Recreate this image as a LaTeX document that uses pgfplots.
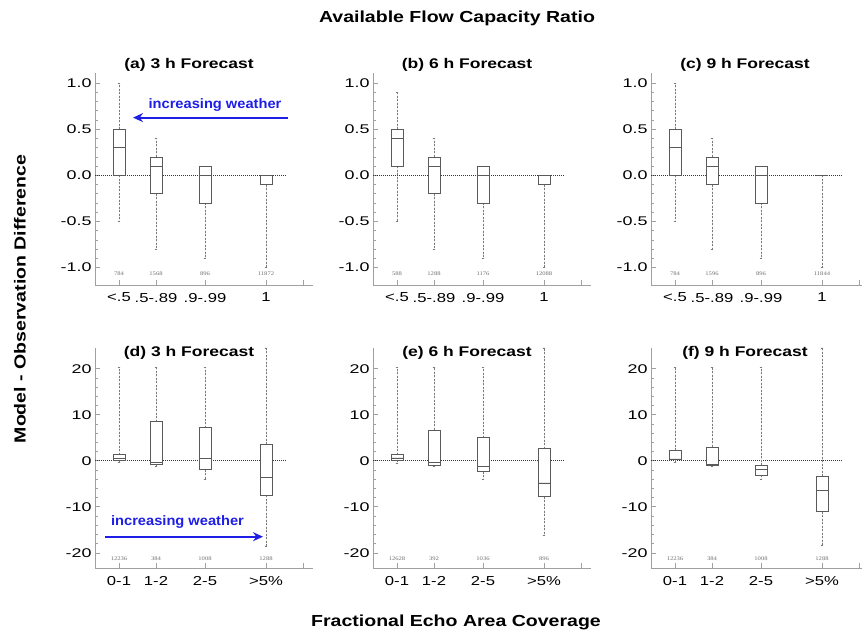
\documentclass[border=0pt]{standalone}
\usepackage{fontspec}
\setmainfont{Liberation Sans}
\newfontfamily\tickfont{Liberation Sans}[FakeStretch=1.42]
\newfontfamily\xtickfont{Liberation Sans}[FakeStretch=1.28]
\newfontfamily\labfont{Liberation Sans}[FakeStretch=1.22]
\newfontfamily\ptfont{Liberation Sans}[FakeStretch=1.25]
\newfontfamily\arrfont{Liberation Sans}[FakeStretch=1.07]
\newfontfamily\cntfont{Liberation Serif}[FakeStretch=1.2]
\usepackage{pgfplots}
\pgfplotsset{compat=1.18}
\usepgfplotslibrary{statistics}
\usetikzlibrary{arrows.meta}
\definecolor{axgray}{HTML}{A0A0A0}
\definecolor{boxgray}{HTML}{5A5A5A}
\definecolor{wgray}{HTML}{7A7A7A}
\definecolor{arrblue}{HTML}{1E1EE6}
\definecolor{cntgray}{HTML}{707070}

\pgfplotsset{
 panel/.style={
  scale only axis, width=218pt, anchor=south west, clip=false,
  xmin=0, xmax=218,
  boxplot/draw direction=y,
  axis x line*=bottom, axis y line*=left,
  axis line style={axgray, line width=0.8pt, -},
  xtick={24,61,110,171,208},
  tick align=inside,
  major tick length=5pt, minor tick length=3pt,
  every tick/.style={axgray, line width=0.6pt},
  minor y tick num=4,
  yticklabel style={font=\tickfont\fontsize{12.6}{14}\selectfont, text=black},
  xticklabel style={font=\xtickfont\fontsize{13}{14}\selectfont, text=black, yshift=-4.5pt},
 },
 toprow/.style={panel, height=212pt, ymin=-1.19, ymax=1.11,
  ytick={-1,-0.5,0,0.5,1}, yticklabels={-1.0,-0.5,0.0,0.5,1.0},
  xticklabels={<.5,.5-.89,.9-.99,1,{}}},
 botrow/.style={panel, height=220pt, ymin=-23.3, ymax=24.5,
  ytick={-20,-10,0,10,20}, yticklabels={-20,-10,0,10,20},
  xticklabels={0-1,1-2,2-5,>5\%,{}}},
}
\newcommand{\bx}[6]{\addplot[draw=boxgray, line width=0.7pt, solid, fill=white,
  boxplot prepared={draw direction=y, draw position=#1, lower whisker=#2, lower quartile=#3,
   median=#4, upper quartile=#5, upper whisker=#6, box extend=12, whisker extend=3,
   every whisker/.style={wgray, dash pattern=on 2pt off 1.5pt},
   every median/.style={boxgray}}] coordinates {};}
\newcommand{\zl}{\draw[black!80, line width=0.7pt, dash pattern=on 0.7pt off 1.3pt] (axis cs:0,0) -- (axis cs:191,0);}
\newcommand{\cnt}[5]{%
  \node[font=\cntfont\fontsize{5.5}{6}\selectfont, text=cntgray] at (axis cs:24,#1) {#2};
  \node[font=\cntfont\fontsize{5.5}{6}\selectfont, text=cntgray] at (axis cs:61,#1) {#3};
  \node[font=\cntfont\fontsize{5.5}{6}\selectfont, text=cntgray] at (axis cs:110,#1) {#4};
  \node[font=\cntfont\fontsize{5.5}{6}\selectfont, text=cntgray] at (axis cs:171,#1) {#5};}
\newcommand{\ptitle}[2]{\node[font=\ptfont\bfseries\fontsize{14}{16}\selectfont] at (axis cs:94,#1) {#2};}

\begin{document}
\begin{tikzpicture}
\path[use as bounding box] (0,0) rectangle (862pt,635pt);

% (a)
\begin{axis}[toprow, at={(95pt,350pt)}]
\zl
\bx{24}{-0.5}{0}{0.3}{0.5}{1.0}
\bx{61}{-0.8}{-0.2}{0.1}{0.2}{0.4}
\bx{110}{-0.9}{-0.3}{0.0}{0.1}{0.1}
\bx{171}{-1.0}{-0.1}{0.0}{0.0}{0.0}
\cnt{-1.065}{784}{1568}{896}{11872}
\ptitle{1.2}{(a) 3 h Forecast}
\draw[arrblue, line width=2pt, -{Stealth[length=10pt,width=9pt]}] (axis cs:193,0.626) -- (axis cs:38,0.626);
\node[font=\arrfont\bfseries\fontsize{13.7}{15}\selectfont, text=arrblue] at (axis cs:120,0.764) {increasing weather};
\end{axis}

% (b)
\begin{axis}[toprow, at={(373pt,350pt)}]
\zl
\bx{24}{-0.5}{0.1}{0.4}{0.5}{0.9}
\bx{61}{-0.8}{-0.2}{0.1}{0.2}{0.4}
\bx{110}{-0.9}{-0.3}{0.0}{0.1}{0.1}
\bx{171}{-1.0}{-0.1}{0.0}{0.0}{0.0}
\cnt{-1.065}{588}{1288}{1176}{12088}
\ptitle{1.2}{(b) 6 h Forecast}
\end{axis}

% (c)
\begin{axis}[toprow, at={(651pt,350pt)}]
\zl
\bx{24}{-0.5}{0}{0.3}{0.5}{1.0}
\bx{61}{-0.8}{-0.1}{0.1}{0.2}{0.4}
\bx{110}{-0.9}{-0.3}{0.0}{0.1}{0.1}
\bx{171}{-1.0}{0.0}{0.0}{0.0}{0.0}
\cnt{-1.065}{784}{1596}{896}{11844}
\ptitle{1.2}{(c) 9 h Forecast}
\end{axis}

% (d)
\begin{axis}[botrow, at={(95pt,67pt)}]
\zl
\bx{24}{-0.4}{0}{0.5}{1.3}{20.3}
\bx{61}{-1.3}{-0.8}{-0.3}{8.5}{20.3}
\bx{110}{-4.0}{-1.9}{0.5}{7.2}{20.3}
\bx{171}{-18.5}{-7.5}{-3.7}{3.6}{24.5}
\cnt{-21.2}{12236}{384}{1008}{1288}
\ptitle{23.5}{(d) 3 h Forecast}
\draw[arrblue, line width=2pt, -{Stealth[length=10pt,width=9pt]}] (axis cs:10,-16.5) -- (axis cs:168,-16.5);
\node[font=\arrfont\bfseries\fontsize{13.7}{15}\selectfont, text=arrblue] at (axis cs:82.5,-13.4) {increasing weather};
\end{axis}

% (e)
\begin{axis}[botrow, at={(373pt,67pt)}]
\zl
\bx{24}{-0.5}{0.15}{0.6}{1.3}{20.3}
\bx{61}{-1.3}{-0.9}{-0.3}{6.7}{20.3}
\bx{110}{-4.1}{-2.4}{-1.3}{5.0}{20.3}
\bx{171}{-16.3}{-7.8}{-4.8}{2.6}{24.5}
\cnt{-21.2}{12628}{392}{1036}{896}
\ptitle{23.5}{(e) 6 h Forecast}
\end{axis}

% (f)
\begin{axis}[botrow, at={(651pt,67pt)}]
\zl
\bx{24}{-0.4}{0.2}{0.4}{2.3}{20.3}
\bx{61}{-1.3}{-1.0}{-0.8}{3.0}{20.3}
\bx{110}{-4.0}{-3.1}{-1.9}{-1.0}{20.3}
\bx{171}{-18.3}{-11.1}{-6.4}{-3.4}{24.5}
\cnt{-21.2}{12236}{384}{1008}{1288}
\ptitle{23.5}{(f) 9 h Forecast}
\end{axis}

\node[font=\labfont\bfseries\fontsize{16}{18}\selectfont] at (457pt,617pt) {Available Flow Capacity Ratio};
\node[font=\labfont\bfseries\fontsize{16}{18}\selectfont] at (456pt,13pt) {Fractional Echo Area Coverage};
\node[font=\labfont\bfseries\fontsize{16}{18}\selectfont, rotate=90] at (20pt,336pt) {Model - Observation Difference};
\end{tikzpicture}
\end{document}
